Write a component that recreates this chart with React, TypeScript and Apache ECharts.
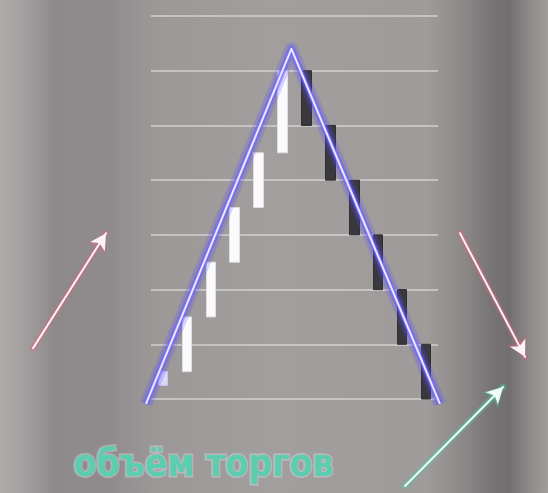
import * as echarts from "echarts";
import { useEffect, useRef } from "react";

const W = 548;
const H = 493;
const GRID = { left: 151, right: 110, top: 16, bottom: 94 };

// 12 candles, one per step of the pump-and-dump
const categories = ["1", "2", "3", "4", "5", "6", "7", "8", "9", "10", "11", "12"];
const opens = [0.25, 0.5, 1.5, 2.5, 3.5, 4.5, 6, 5, 4, 3, 2, 1];
const closes = [0.5, 1.5, 2.5, 3.5, 4.5, 6, 5, 4, 3, 2, 1, 0];
const yTicks = [0, 1, 2, 3, 4, 5, 6, 7];

// triangle trend line (x in candle index units, y in price units)
const trendX = [-0.71, 5.37, 11.58];
const trendY = [-0.09, 6.4, -0.09];

// arrows: [from, to]
const riseArrow = [[-5.43, 0.93], [-2.38, 3.03]];
const fallArrow = [[12.42, 3.03], [15.14, 0.77]];
const volumeArrow = [[10.12, -1.59], [14.22, 0.22]];

const volumeLabel = "объём торгов";

const App = () => {
  const chartRef = useRef<HTMLDivElement | null>(null);

  useEffect(() => {
    if (!chartRef.current) return;
    const chart = echarts.init(chartRef.current, null, { renderer: "svg" });

    const ux = (W - GRID.left - GRID.right) / categories.length;
    const uy = (H - GRID.top - GRID.bottom) / (yTicks.length - 1);
    const yMax = yTicks[yTicks.length - 1];

    const candles = categories.map((_, i) => {
      const o = opens[i];
      const c = closes[i];
      const item: any = { value: [o, c, Math.min(o, c), Math.max(o, c)] };
      if (i === 0) item.itemStyle = { color: "#dcd8f6", borderColor: "#c9c3f0" };
      return item;
    });

    const trend = trendX.map((x, i) => [x, trendY[i]]);
    const arrowLine = (pts: number[][]) => [{ coord: pts[0] }, { coord: pts[1] }];

    // one overlay series per layer of a glowing line
    const trendLayer = (color: string, width: number, z: number) => ({
      type: "line",
      xAxisIndex: 1,
      yAxisIndex: 1,
      symbol: "none",
      data: trend,
      lineStyle: { color, width, join: "round" },
      z,
    });

    const arrowLayer = (arrows: number[][][], color: string, width: number, size: number[], z: number) => ({
      type: "line",
      xAxisIndex: 1,
      yAxisIndex: 1,
      symbol: "none",
      data: [],
      z,
      markLine: {
        silent: true,
        z,
        symbol: ["none", "arrow"],
        symbolSize: size,
        label: { show: false },
        lineStyle: { type: "solid", color, width, cap: "round" },
        data: arrows.map(arrowLine),
      },
    });

    chart.setOption({
      animation: false,
      backgroundColor: {
        type: "linear",
        x: 0, y: 0, x2: 1, y2: 0,
        colorStops: [
          { offset: 0, color: "#afabab" },
          { offset: 0.04, color: "#a5a1a1" },
          { offset: 0.1, color: "#8e8a8b" },
          { offset: 0.2, color: "#908c8d" },
          { offset: 0.28, color: "#9c9898" },
          { offset: 0.5, color: "#a29e9e" },
          { offset: 0.78, color: "#9f9b9b" },
          { offset: 0.85, color: "#8b8787" },
          { offset: 0.9, color: "#767374" },
          { offset: 0.93, color: "#726f70" },
          { offset: 0.97, color: "#8f8c8c" },
          { offset: 1, color: "#a19d9d" },
        ],
      },
      grid: [
        { ...GRID },
        { left: 0, right: 0, top: 0, bottom: 0 },
      ],
      xAxis: [
        {
          type: "category",
          gridIndex: 0,
          data: categories,
          show: false,
        },
        {
          type: "value",
          gridIndex: 1,
          min: -0.5 - GRID.left / ux,
          max: categories.length - 0.5 + GRID.right / ux,
          show: false,
          splitLine: { show: false },
        },
      ],
      yAxis: [
        {
          type: "value",
          gridIndex: 0,
          min: yTicks[0],
          max: yMax,
          interval: 1,
          axisLine: { show: false },
          axisTick: { show: false },
          axisLabel: { show: false },
          splitLine: { show: true, lineStyle: { color: "rgba(226,223,223,0.8)", width: 1.5 } },
        },
        {
          type: "value",
          gridIndex: 1,
          min: -GRID.bottom / uy,
          max: yMax + GRID.top / uy,
          show: false,
          splitLine: { show: false },
        },
      ],
      series: [
        {
          type: "candlestick",
          xAxisIndex: 0,
          yAxisIndex: 0,
          barWidth: 10,
          data: candles,
          itemStyle: {
            color: "#fbfbfd",
            borderColor: "#dedde4",
            color0: "#39383d",
            borderColor0: "#2f2e34",
            borderWidth: 1,
          },
        },
        trendLayer("rgba(90,75,255,0.22)", 13, 3),
        trendLayer("rgba(100,88,255,0.45)", 7, 4),
        trendLayer("rgba(120,110,255,0.8)", 4, 5),
        trendLayer("#ebe9ff", 2, 6),
        arrowLayer([riseArrow, fallArrow], "rgba(225,95,125,0.4)", 6, [17, 19], 7),
        arrowLayer([riseArrow, fallArrow], "#fcf1f4", 2, [13, 16], 8),
        arrowLayer([volumeArrow], "rgba(70,205,160,0.45)", 6, [17, 19], 7),
        arrowLayer([volumeArrow], "#effbf6", 2, [13, 16], 8),
      ],
      graphic: [
        {
          type: "text",
          left: 72,
          top: 443,
          z: 10,
          style: {
            text: volumeLabel,
            fill: "#5ccdae",
            stroke: "rgba(222,222,232,0.45)",
            lineWidth: 3,
            strokeFirst: true,
            font: "bold 37px 'DejaVu Sans Condensed'",
          },
        },
      ],
    });

    return () => {
      chart.dispose();
    };
  }, []);

  return (
    <div
      ref={chartRef}
      style={{ position: "fixed", left: 0, top: 0, width: W, height: H }}
    />
  );
};

export default App;
